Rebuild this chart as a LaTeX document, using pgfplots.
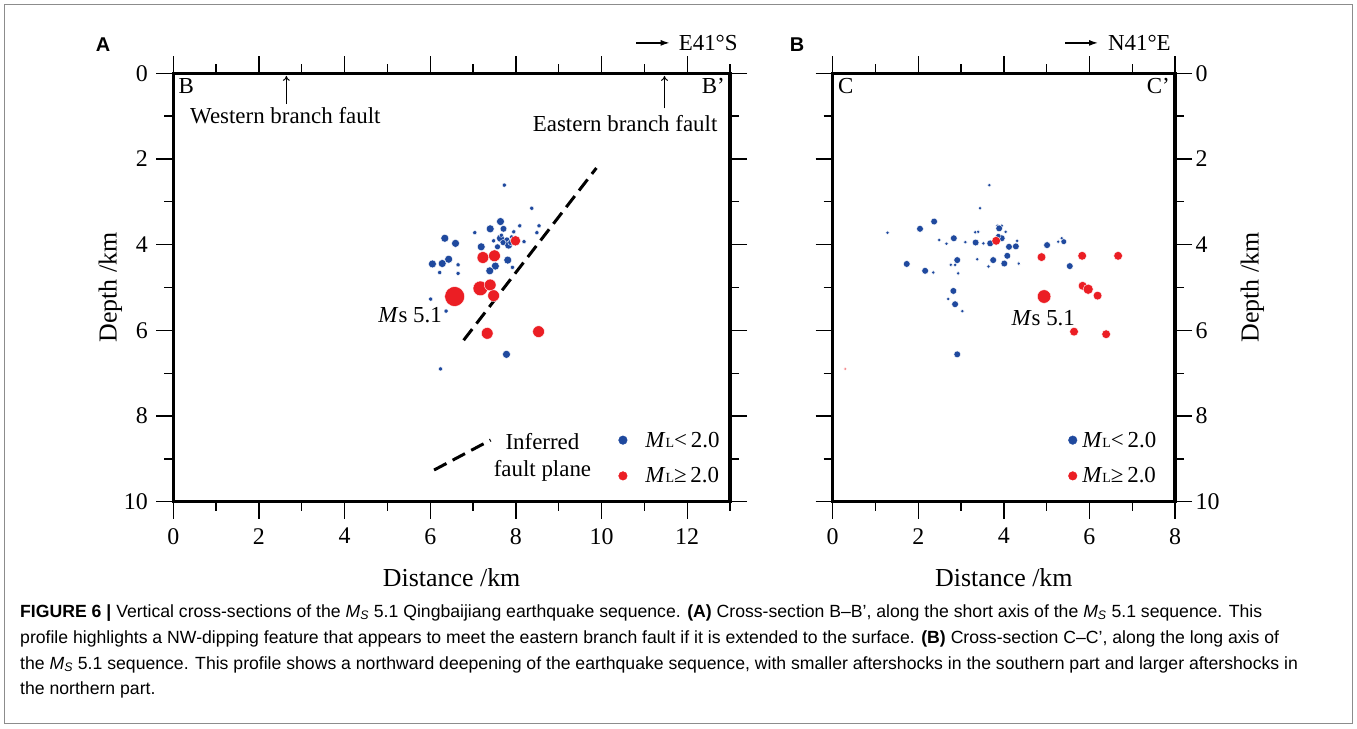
\documentclass[border=0pt]{standalone}
\usepackage{fontspec}
\setmainfont{Liberation Serif}
\setsansfont{Liberation Sans}
\usepackage{pgfplots}
\pgfplotsset{compat=1.18}
\usepackage{pgfplotstable}
\usetikzlibrary{arrows.meta}
\definecolor{myblue}{RGB}{31,73,158}
\definecolor{myred}{RGB}{235,30,36}
\newcommand\fa{\fontsize{23}{27}\selectfont}

\pgfplotstableread{
x y s
7.73 2.61 2.1
8.37 3.15 2.1
8.54 3.56 2.1
8.49 3.72 2.1
7.64 3.46 4.0
7.40 3.63 4.0
7.71 3.63 3.4
8.09 3.56 2.1
7.04 3.72 2.1
7.95 3.70 2.1
7.64 3.85 4.0
7.48 3.91 2.1
7.79 3.89 3.0
7.83 4.01 4.0
7.57 4.05 3.0
8.19 3.93 2.1
7.70 3.95 3.0
7.88 3.95 3.0
7.66 3.78 2.1
7.90 3.82 2.1
6.34 3.85 4.0
6.59 3.97 4.0
7.19 4.05 4.0
7.81 4.36 4.0
6.05 4.45 4.0
6.28 4.44 4.0
6.43 4.34 4.0
6.65 4.47 2.1
6.22 4.65 2.1
6.65 4.67 2.1
7.52 4.50 4.0
7.39 4.61 4.0
7.92 4.53 2.1
6.01 5.27 2.1
6.37 5.55 2.1
7.78 6.56 4.0
6.24 6.90 2.1
}\Ablue

\pgfplotstableread{
x y s
7.99 3.91 5.2
7.23 4.30 5.9
7.50 4.26 5.9
6.57 5.21 10.0
7.17 5.02 7.4
7.40 4.94 5.9
7.48 5.19 5.9
7.33 6.07 5.9
8.53 6.03 5.9
}\Ared

\pgfplotstableread{
x y s
3.66 2.61 1.9
3.44 3.15 1.9
1.28 3.72 1.9
2.04 3.63 3.4
2.37 3.46 3.4
2.49 3.89 1.9
2.66 3.98 1.9
2.83 3.85 3.4
3.10 3.94 1.9
3.33 3.71 1.9
3.40 3.70 1.9
3.34 3.95 3.4
3.52 3.97 1.9
3.68 3.97 3.4
3.85 3.56 1.9
3.95 3.56 1.9
3.89 3.62 3.4
4.04 3.70 1.9
3.95 3.85 3.4
3.87 3.80 2.7
4.12 4.05 3.4
4.28 4.04 3.4
4.31 3.91 1.9
2.91 4.36 3.4
3.38 4.34 1.9
3.75 4.36 3.4
4.08 4.26 3.4
4.01 4.44 3.4
4.35 4.44 1.9
3.64 4.51 1.9
2.76 4.47 1.9
2.86 4.47 1.9
1.73 4.45 3.4
2.16 4.61 3.4
2.35 4.65 1.9
2.93 4.67 1.9
2.82 5.08 3.4
2.70 5.27 1.9
2.86 5.39 3.4
3.03 5.55 1.9
2.91 6.56 3.4
5.01 4.01 3.4
5.27 3.93 1.9
5.35 3.85 1.9
5.40 3.93 2.9
5.54 4.50 3.4
}\Bblue

\pgfplotstableread{
x y s
3.82 3.91 4.4
4.88 4.29 4.4
5.83 4.26 4.4
6.67 4.26 4.4
4.94 5.21 6.8
5.84 4.96 4.4
5.97 5.04 5.1
6.19 5.19 4.4
5.64 6.03 4.4
6.39 6.09 4.4
0.29 6.90 1.3
}\Bred

\begin{document}
\begin{tikzpicture}
\pgfplotsset{
  panel/.style={
    scale only axis, height=428.4bp, ymin=0, ymax=10, y dir=reverse,
    clip=false,
    axis line style={line width=3.2bp},
    tick style={black, line width=1.3bp},
    major tick length=17bp, minor tick length=9bp,
    tick align=outside, xtick pos=both, ytick pos=both,
    xticklabel pos=lower,
    ytick={0,2,...,10}, minor ytick={1,3,...,9},
    /pgf/number format/assume math mode=true,
    ticklabel style={font=\fontsize{24}{24}\selectfont},
    xticklabel style={yshift=-6bp},
    label style={font=\fontsize{26}{26}\selectfont},
    xlabel={Distance /km}, ylabel={Depth /km},
    xlabel style={at={(axis description cs:0.5,-0.199)}, anchor=base},
    legend cell align=left,
  },
  pts/.style={scatter, only marks, mark=*,
    scatter/use mapped color={draw=white, fill=#1},
    visualization depends on={\thisrow{s}\as\msize},
    scatter/@pre marker code/.append style={/tikz/mark size=\msize},
    mark options={line width=0.4bp}},
}
% ---------------- Panel A ----------------
\begin{axis}[panel, at={(173.3bp,-73.3bp)}, anchor=north west, width=556.7bp,
  xmin=0, xmax=13, xtick={0,2,...,12}, minor xtick={1,3,...,13},
  yticklabel pos=left, yticklabel style={xshift=-5bp},
  ylabel style={at={(axis description cs:-0.102,0.5)}, anchor=base},
  legend style={draw=none, fill=none, inner sep=0pt, at={(axis cs:10.39,8.98)}, anchor=west,
    row sep=17bp, column sep=17bp, font=\fa, nodes={inner sep=1bp}}]
\addplot[pts=myblue, forget plot] table[x=x,y=y] {\Ablue};
\addplot[pts=myred, forget plot] table[x=x,y=y] {\Ared};
\addlegendimage{legend image code/.code={\fill[myblue] (0bp,0bp) circle (4.3bp);}}
\addlegendentry{\textit{M}{\fontsize{14}{14}\selectfont L}<\,2.0}
\addlegendimage{legend image code/.code={\fill[myred] (0bp,0bp) circle (4.3bp);}}
\addlegendentry{\textit{M}{\fontsize{14}{14}\selectfont L}≥\,2.0}
\draw[line width=3bp, dash pattern=on 14bp off 7bp] (axis cs:6.78,6.23) -- (axis cs:9.88,2.21);
\draw[line width=3bp, dash pattern=on 14bp off 7bp] (axis cs:6.09,9.26) -- (axis cs:7.41,8.56);
\node[font=\fa, anchor=base] at (axis cs:8.62,8.78) {Inferred};
\node[font=\fa, anchor=base] at (axis cs:8.62,9.40) {fault plane};
\node[font=\fa] at (axis cs:5.53,5.65) {\textit{M}s 5.1};
\node[font=\fa, anchor=north west, inner sep=0pt] at (axis cs:0.12,0.12) {B};
\node[font=\fa, anchor=north east, inner sep=0pt] at (axis cs:12.88,0.12) {B’};
\draw[-{To[length=5bp,width=7bp]}, line width=1bp] (axis cs:2.64,0.72) -- (axis cs:2.64,0.06);
\node[font=\fa, anchor=base west, inner sep=0pt] at (axis cs:0.39,1.16) {Western branch fault};
\draw[-{To[length=5bp,width=7bp]}, line width=1bp] (axis cs:11.47,0.82) -- (axis cs:11.47,0.06);
\node[font=\fa, anchor=base east, inner sep=0pt] at (axis cs:12.71,1.35) {Eastern branch fault};
\draw[-{Latex[length=9bp,width=6bp]}, line width=1.3bp] (axis cs:10.81,-0.71) -- (axis cs:11.59,-0.71);
\node[font=\fa, anchor=west, inner sep=0pt] at (axis cs:11.80,-0.71) {E41°S};
\end{axis}
% ---------------- Panel B ----------------
\begin{axis}[panel, at={(832.7bp,-73.3bp)}, anchor=north west, width=342.3bp,
  xmin=0, xmax=8, xtick={0,2,...,8}, minor xtick={1,3,...,7},
  yticklabel pos=right,
  ylabel style={at={(axis description cs:1.244,0.5)}, anchor=base},
  legend style={draw=none, fill=none, inner sep=0pt, at={(axis cs:5.50,8.98)}, anchor=west,
    row sep=17bp, column sep=4bp, font=\fa, nodes={inner sep=1bp}}]
\addplot[pts=myblue, forget plot] table[x=x,y=y] {\Bblue};
\addplot[pts=myred, forget plot] table[x=x,y=y] {\Bred};
\addlegendimage{legend image code/.code={\fill[myblue] (0bp,0bp) circle (4.3bp);}}
\addlegendentry{\textit{M}{\fontsize{14}{14}\selectfont L}<\,2.0}
\addlegendimage{legend image code/.code={\fill[myred] (0bp,0bp) circle (4.3bp);}}
\addlegendentry{\textit{M}{\fontsize{14}{14}\selectfont L}≥\,2.0}
\node[font=\fa] at (axis cs:4.92,5.72) {\textit{M}s 5.1};
\node[font=\fa, anchor=north west, inner sep=0pt] at (axis cs:0.12,0.12) {C};
\node[font=\fa, anchor=north east, inner sep=0pt] at (axis cs:7.88,0.12) {C’};
\draw[-{Latex[length=9bp,width=6bp]}, line width=1.3bp] (axis cs:5.43,-0.71) -- (axis cs:6.20,-0.71);
\node[font=\fa, anchor=west, inner sep=0pt] at (axis cs:6.43,-0.71) {N41°E};
\end{axis}
% ---------------- frame, panel letters, caption ----------------
\begin{scope}[x=1bp,y=-1bp]
\path[use as bounding box] (0,0) rectangle (1357,728);
\draw[black!45, line width=1bp] (4.5,4.5) rectangle (1352.5,723.5);
\node[font=\sffamily\bfseries\fontsize{20}{20}\selectfont] at (103,45) {A};
\node[font=\sffamily\bfseries\fontsize{20}{20}\selectfont] at (797,45) {B};
\begin{scope}[every node/.style={anchor=base west, inner sep=0pt, font=\sffamily\fontsize{17.7}{20}\selectfont}]
\node at (20,617) {\textbf{FIGURE 6 |} Vertical cross-sections of the \textit{M}\textsubscript{\textit{S}} 5.1 Qingbaijiang earthquake sequence. \textbf{(A)} Cross-section B–B’, along the short axis of the \textit{M}\textsubscript{\textit{S}} 5.1 sequence. This};
\node at (20,643) {profile highlights a NW-dipping feature that appears to meet the eastern branch fault if it is extended to the surface. \textbf{(B)} Cross-section C–C’, along the long axis of};
\node at (20,669) {the \textit{M}\textsubscript{\textit{S}} 5.1 sequence. This profile shows a northward deepening of the earthquake sequence, with smaller aftershocks in the southern part and larger aftershocks in};
\node at (20,694) {the northern part.};
\end{scope}
\end{scope}
\end{tikzpicture}
\end{document}
